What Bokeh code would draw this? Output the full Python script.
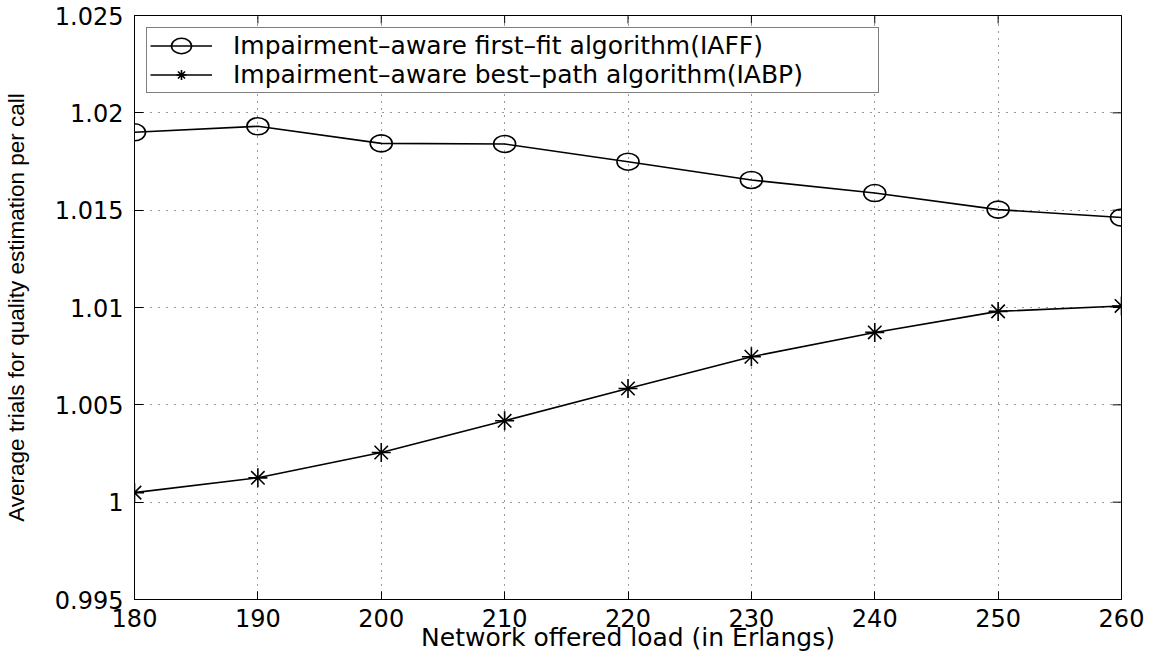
import math
from bokeh.plotting import figure
from bokeh.models import Range1d, FixedTicker, Legend, LegendItem
from bokeh.embed import file_html
from bokeh.resources import INLINE

# ---- data ----
load = [180, 190, 200, 210, 220, 230, 240, 250, 260]
iaff = [1.01900, 1.01931, 1.01843, 1.01840, 1.01749, 1.01655, 1.01588, 1.01503, 1.01462]
iabp = [1.00049, 1.00125, 1.00255, 1.00418, 1.00584, 1.00747, 1.00872, 1.00980, 1.01008]
iaff_label = "Impairment\u2013aware first\u2013fit algorithm(IAFF)"
iabp_label = "Impairment\u2013aware best\u2013path algorithm(IABP)"
x_ticks = [180, 190, 200, 210, 220, 230, 240, 250, 260]
y_ticks = [0.995, 1.0, 1.005, 1.01, 1.015, 1.02, 1.025]
y_tick_labels = ["0.995", "1", "1.005", "1.01", "1.015", "1.02", "1.025"]
x_title = "Network offered load (in Erlangs)"
y_title = "Average trials for quality estimation per call"
x_min, x_max = 180, 260
y_min, y_max = 0.995, 1.025

FONT = "DejaVu Sans"

p = figure(width=1151, height=656,
           x_range=Range1d(x_min, x_max), y_range=Range1d(y_min, y_max),
           output_backend="svg", toolbar_location=None,
           min_border_left=133, min_border_right=30,
           min_border_top=15, min_border_bottom=57)
p.outline_line_color = "black"
p.outline_line_width = 1
p.background_fill_color = "white"
p.border_fill_color = "white"

# axes
xa = p.xaxis[0]
xa.ticker = FixedTicker(ticks=x_ticks)
xa.major_tick_in = 8
xa.major_tick_out = 0
xa.minor_tick_in = 0
xa.minor_tick_out = 0
xa.major_label_standoff = 9
xa.major_label_text_font = FONT
xa.major_label_text_font_size = "24px"
xa.major_label_text_color = "black"
xa.axis_label = x_title
xa.axis_label_text_font = FONT
xa.axis_label_text_font_size = "25px"
xa.axis_label_text_font_style = "normal"
xa.axis_label_text_color = "black"
xa.axis_label_standoff = -7
xa.axis_line_color = "black"
xa.major_tick_line_color = "black"

ya = p.yaxis[0]
ya.ticker = FixedTicker(ticks=y_ticks)
ya.major_label_overrides = {t: l for t, l in zip(y_ticks, y_tick_labels)}
ya.major_tick_in = 9
ya.major_tick_out = 0
ya.minor_tick_in = 0
ya.minor_tick_out = 0
ya.major_label_standoff = 11
ya.major_label_text_font = FONT
ya.major_label_text_font_size = "24px"
ya.major_label_text_color = "black"
ya.axis_label = y_title
ya.axis_label_text_font = "Liberation Sans"
ya.axis_label_text_font_size = "22.5px"
ya.axis_label_text_font_style = "normal"
ya.axis_label_text_color = "black"
ya.axis_label_standoff = 23
ya.axis_line_color = "black"
ya.major_tick_line_color = "black"

# inward ticks on the top and right edges of the box (clipped to the frame)
p.scatter(x=x_ticks, y=[y_max] * len(x_ticks), marker="dash", angle=math.pi / 2,
          size=16, line_color="black", line_width=1)
p.scatter(x=[x_max] * len(y_ticks), y=y_ticks, marker="dash",
          size=18, line_color="black", line_width=1)

# grid
p.xgrid.ticker = FixedTicker(ticks=x_ticks)
p.ygrid.ticker = FixedTicker(ticks=y_ticks)
p.xgrid.grid_line_color = "#333333"
p.xgrid.grid_line_dash = "1 6"
p.xgrid.grid_line_width = 1
p.ygrid.grid_line_color = "#333333"
p.ygrid.grid_line_dash = "1 7"
p.ygrid.grid_line_width = 1

# series
l1 = p.line(load, iaff, line_color="black", line_width=1.6)
m1 = p.ellipse(x=load, y=iaff, width=22, height=17, width_units="screen",
               height_units="screen", fill_color=None, line_color="black", line_width=1.6)
l2 = p.line(load, iabp, line_color="black", line_width=1.6)
m2 = p.scatter(load, iabp, marker="asterisk", size=19, line_color="black", line_width=1.6)

legend = Legend(items=[LegendItem(label=iaff_label, renderers=[l1, m1]),
                       LegendItem(label=iabp_label, renderers=[l2, m2])],
                location="top_left", margin=12, padding=3, spacing=0,
                label_height=25, glyph_height=25, glyph_width=62,
                label_standoff=21, label_width=642,
                label_text_font=FONT, label_text_font_size="25px",
                label_text_color="black",
                border_line_color="black", border_line_width=1,
                background_fill_color="white", background_fill_alpha=1.0)
p.add_layout(legend)

open("out.html", "w").write(file_html(p, INLINE))
